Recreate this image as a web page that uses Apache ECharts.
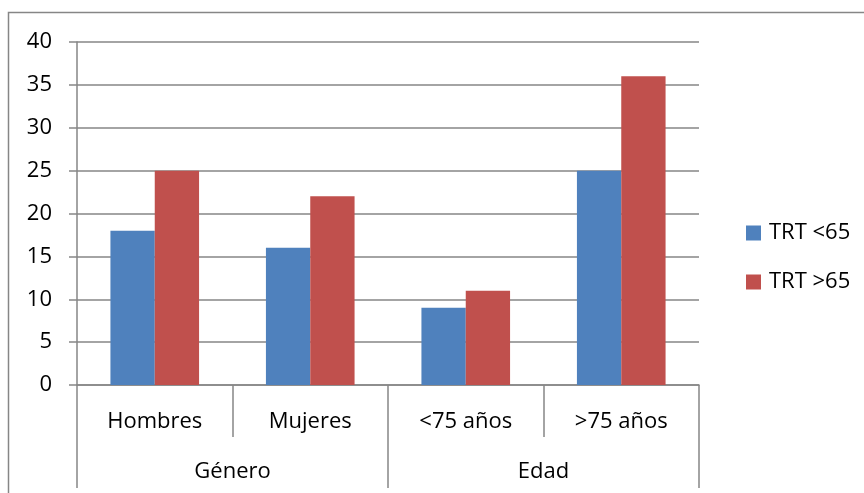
<!DOCTYPE html>
<html>
<head>
<meta charset="utf-8">
<script src="https://cdn.jsdelivr.net/npm/echarts@6/dist/echarts.min.js"></script>
<style>
  html, body { margin: 0; padding: 0; background: #fff; }
  #chart { width: 864px; height: 493px; }
</style>
</head>
<body>
<div id="chart"></div>
<script>
// Subgroups and the groups they belong to
const categories = ['Hombres', 'Mujeres', '<75 años', '>75 años'];
const groups = ['Género', 'Edad'];
const seriesNames = ['TRT <65', 'TRT >65'];
const trtUnder65 = [18, 16, 9, 25];
const trtOver65 = [25, 22, 11, 36];
const yTicks = { min: 0, max: 40, step: 5 };

const FONT = '"Open Sans", sans-serif';
const FS = 22;
const GREY = '#868686';

const chart = echarts.init(document.getElementById('chart'), null, { renderer: 'canvas' });

chart.setOption({
  animation: false,
  backgroundColor: '#fff',
  textStyle: { fontFamily: FONT, color: '#000' },
  graphic: [{
    type: 'rect',
    shape: { x: 8.5, y: 12.5, width: 900, height: 520 },
    style: { fill: 'none', stroke: GREY, lineWidth: 1.5 },
    silent: true
  }],
  grid: { left: 77, right: 165, top: 42, bottom: 108, containLabel: false },
  legend: {
    orient: 'vertical',
    left: 741,
    top: 217,
    itemWidth: 15,
    itemHeight: 15,
    itemGap: 27,
    icon: 'rect',
    data: seriesNames,
    textStyle: { fontFamily: FONT, fontSize: FS, color: '#000', padding: [0, 0, 0, 3] }
  },
  xAxis: [
    {
      type: 'category',
      data: categories,
      position: 'bottom',
      axisLine: { show: true, lineStyle: { color: GREY, width: 1.5 } },
      axisTick: { show: true, length: 52, lineStyle: { color: GREY, width: 1.5 } },
      axisLabel: { fontFamily: FONT, fontSize: FS, color: '#000', margin: 26 }
    },
    {
      type: 'category',
      data: groups,
      position: 'bottom',
      axisLine: { show: false },
      axisTick: { show: true, length: 103, lineStyle: { color: GREY, width: 1.5 } },
      axisLabel: { fontFamily: FONT, fontSize: FS, color: '#000', margin: 76 }
    }
  ],
  yAxis: {
    type: 'value',
    min: yTicks.min,
    max: yTicks.max,
    interval: yTicks.step,
    axisLine: { show: true, lineStyle: { color: GREY, width: 1.5 } },
    axisTick: { show: true, length: 8, lineStyle: { color: GREY, width: 1.5 } },
    splitLine: { show: true, lineStyle: { color: GREY, width: 1.5 } },
    axisLabel: { fontFamily: FONT, fontSize: FS, color: '#000', margin: 25 }
  },
  series: [
    {
      name: seriesNames[0],
      type: 'bar',
      xAxisIndex: 0,
      data: trtUnder65,
      barGap: '0%',
      barCategoryGap: '43%',
      itemStyle: { color: '#4F81BD' }
    },
    {
      name: seriesNames[1],
      type: 'bar',
      xAxisIndex: 0,
      data: trtOver65,
      barGap: '0%',
      barCategoryGap: '43%',
      itemStyle: { color: '#C0504D' }
    }
  ]
});
</script>
</body>
</html>
